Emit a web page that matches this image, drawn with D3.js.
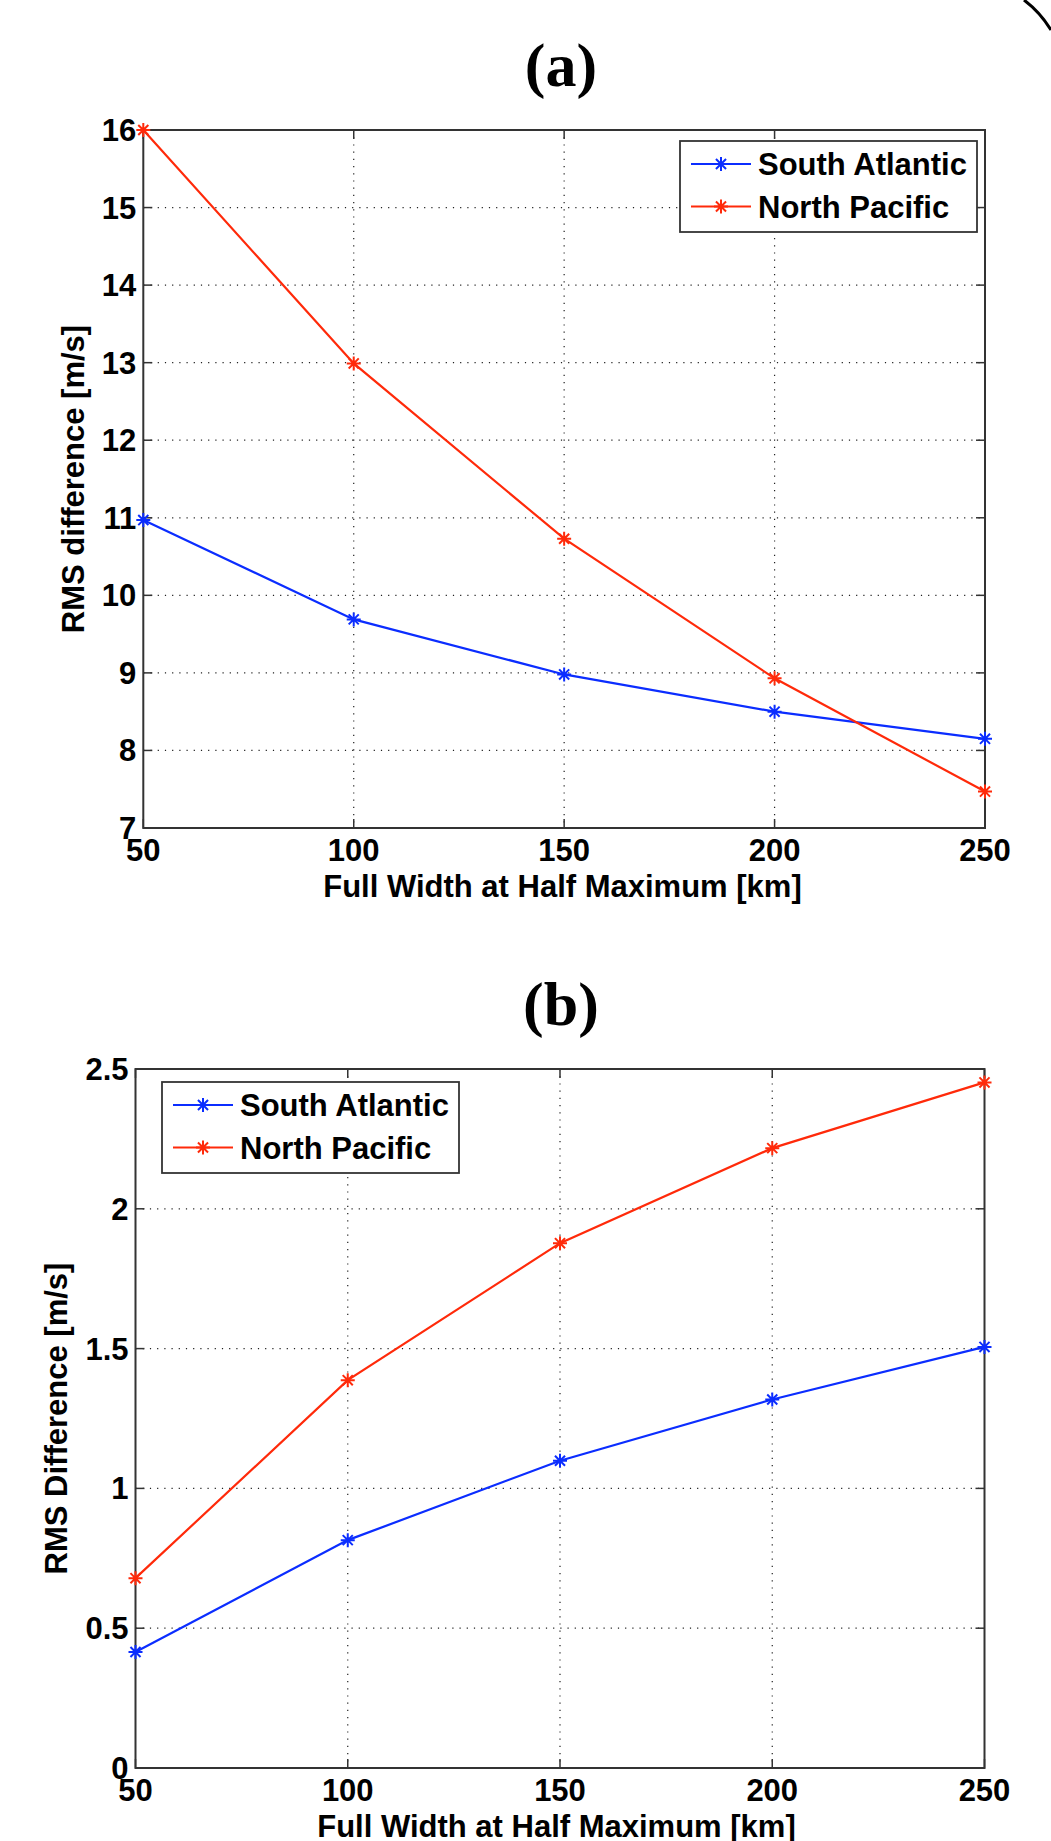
<!DOCTYPE html>
<html>
<head>
<meta charset="utf-8">
<script src="https://cdn.jsdelivr.net/npm/d3@7"></script>
<style>
  body { margin: 0; background: #fff; }
  svg { display: block; }
  text { font-family: "Liberation Sans", Arial, sans-serif; font-weight: bold; fill: #000; }
  .title { font-family: "Liberation Serif", "Times New Roman", serif; }
</style>
</head>
<body>
<svg id="fig" width="1051" height="1841"></svg>
<script>
// data
var fwhm = [50, 100, 150, 200, 250];
var seriesNames = ['South Atlantic', 'North Pacific'];
var seriesColors = ['#0b2dff', '#ff2a0a'];

var southAtlanticA = [10.97, 9.69, 8.98, 8.50, 8.15];
var northPacificA = [16.0, 12.99, 10.73, 8.93, 7.47];
var yTicksA = [7, 8, 9, 10, 11, 12, 13, 14, 15, 16];

var southAtlanticB = [0.415, 0.815, 1.099, 1.318, 1.506];
var northPacificB = [0.679, 1.387, 1.877, 2.217, 2.452];
var yTicksB = [0, 0.5, 1, 1.5, 2, 2.5];

var xTicks = [50, 100, 150, 200, 250];

var svg = d3.select('#fig');
var fontSize = 31;
var tickLen = 9;
var axisColor = '#333';

function star(r) {
  var d = r * 0.72;
  return 'M0,' + (-r) + 'L0,' + r + 'M' + (-r) + ',0L' + r + ',0' +
    'M' + (-d) + ',' + (-d) + 'L' + d + ',' + d + 'M' + (-d) + ',' + d + 'L' + d + ',' + (-d);
}

function drawPanel(p) {
  var g = svg.append('g');
  var x = d3.scaleLinear().domain([50, 250]).range([p.left, p.right]);
  var y = d3.scaleLinear().domain(p.yDomain).range([p.bottom, p.top]);

  // dotted grid
  g.selectAll('.gx').data(xTicks.slice(1, -1)).enter().append('line')
    .attr('x1', function(d) { return x(d); }).attr('x2', function(d) { return x(d); })
    .attr('y1', p.top).attr('y2', p.bottom)
    .style('stroke', '#222').style('stroke-width', 1.2).style('stroke-dasharray', '1.2,6');
  g.selectAll('.gy').data(p.yTicks.slice(1, -1)).enter().append('line')
    .attr('y1', function(d) { return y(d); }).attr('y2', function(d) { return y(d); })
    .attr('x1', p.left).attr('x2', p.right)
    .style('stroke', '#222').style('stroke-width', 1.2).style('stroke-dasharray', '1.2,6');

  // ticks on all four sides, pointing in
  xTicks.forEach(function(t) {
    g.append('line').attr('x1', x(t)).attr('x2', x(t)).attr('y1', p.bottom).attr('y2', p.bottom - tickLen)
      .style('stroke', axisColor).style('stroke-width', 1.5);
    g.append('line').attr('x1', x(t)).attr('x2', x(t)).attr('y1', p.top).attr('y2', p.top + tickLen)
      .style('stroke', axisColor).style('stroke-width', 1.5);
  });
  p.yTicks.forEach(function(t) {
    g.append('line').attr('y1', y(t)).attr('y2', y(t)).attr('x1', p.left).attr('x2', p.left + tickLen)
      .style('stroke', axisColor).style('stroke-width', 1.5);
    g.append('line').attr('y1', y(t)).attr('y2', y(t)).attr('x1', p.right).attr('x2', p.right - tickLen)
      .style('stroke', axisColor).style('stroke-width', 1.5);
  });

  // frame
  g.append('rect').attr('x', p.left).attr('y', p.top)
    .attr('width', p.right - p.left).attr('height', p.bottom - p.top)
    .style('fill', 'none').style('stroke', axisColor).style('stroke-width', 2);

  // tick labels
  g.selectAll('.xl').data(xTicks).enter().append('text')
    .attr('x', function(d) { return x(d); }).attr('y', p.bottom + 33)
    .attr('text-anchor', 'middle').style('font-size', fontSize + 'px')
    .text(function(d) { return d; });
  g.selectAll('.yl').data(p.yTicks).enter().append('text')
    .attr('x', p.left - 7).attr('y', function(d) { return y(d) + 11; })
    .attr('text-anchor', 'end').style('font-size', fontSize + 'px')
    .text(function(d) { return String(d); });

  // axis titles
  g.append('text').attr('x', p.xLabelX).attr('y', p.bottom + 69)
    .attr('text-anchor', 'middle').style('font-size', fontSize + 'px')
    .text('Full Width at Half Maximum [km]');
  g.append('text')
    .attr('transform', 'translate(' + p.yLabelX + ',' + ((p.top + p.bottom) / 2) + ')rotate(-90)')
    .attr('text-anchor', 'middle').style('font-size', fontSize + 'px')
    .text(p.yLabel);

  // panel title
  g.append('text').attr('class', 'title')
    .attr('x', 561).attr('y', p.top - 44)
    .attr('text-anchor', 'middle').style('font-size', '62px')
    .text(p.title);

  // lines + asterisks
  var line = d3.line()
    .x(function(d) { return x(d[0]); })
    .y(function(d) { return y(d[1]); });
  p.series.forEach(function(vals, si) {
    var pts = fwhm.map(function(f, i) { return [f, vals[i]]; });
    g.append('path').datum(pts).attr('d', line)
      .style('fill', 'none').style('stroke', seriesColors[si]).style('stroke-width', 2.2);
    g.selectAll('.m' + si).data(pts).enter().append('path')
      .attr('transform', function(d) { return 'translate(' + x(d[0]) + ',' + y(d[1]) + ')'; })
      .attr('d', star(7))
      .style('fill', 'none').style('stroke', seriesColors[si]).style('stroke-width', 2);
  });

  // legend
  var lg = g.append('g').attr('transform', 'translate(' + p.legendX + ',' + p.legendY + ')');
  lg.append('rect').attr('width', 297).attr('height', 91)
    .style('fill', '#fff').style('stroke', axisColor).style('stroke-width', 1.8);
  seriesNames.forEach(function(name, si) {
    var ry = 23 + si * 42.5;
    lg.append('line').attr('x1', 11).attr('x2', 71).attr('y1', ry).attr('y2', ry)
      .style('stroke', seriesColors[si]).style('stroke-width', 2.2);
    lg.append('path').attr('transform', 'translate(41,' + ry + ')').attr('d', star(7))
      .style('fill', 'none').style('stroke', seriesColors[si]).style('stroke-width', 2);
    lg.append('text').attr('x', 78).attr('y', ry + 11)
      .style('font-size', fontSize + 'px').text(name);
  });
}

drawPanel({
  title: '(a)', yLabel: 'RMS difference [m/s]',
  left: 143.3, right: 985, top: 130, bottom: 828,
  yDomain: [7, 16], yTicks: yTicksA,
  series: [southAtlanticA, northPacificA],
  xLabelX: 562.5, yLabelX: 83.5,
  legendX: 680, legendY: 141
});

drawPanel({
  title: '(b)', yLabel: 'RMS Difference [m/s]',
  left: 135.5, right: 984.5, top: 1069, bottom: 1768,
  yDomain: [0, 2.5], yTicks: yTicksB,
  series: [southAtlanticB, northPacificB],
  xLabelX: 556.5, yLabelX: 67,
  legendX: 162, legendY: 1082
});

// scanned page edge in the top-right corner
svg.append('path').attr('d', 'M1024,0 Q1040,12 1051,30')
  .style('fill', 'none').style('stroke', '#000').style('stroke-width', 3);
</script>
</body>
</html>
